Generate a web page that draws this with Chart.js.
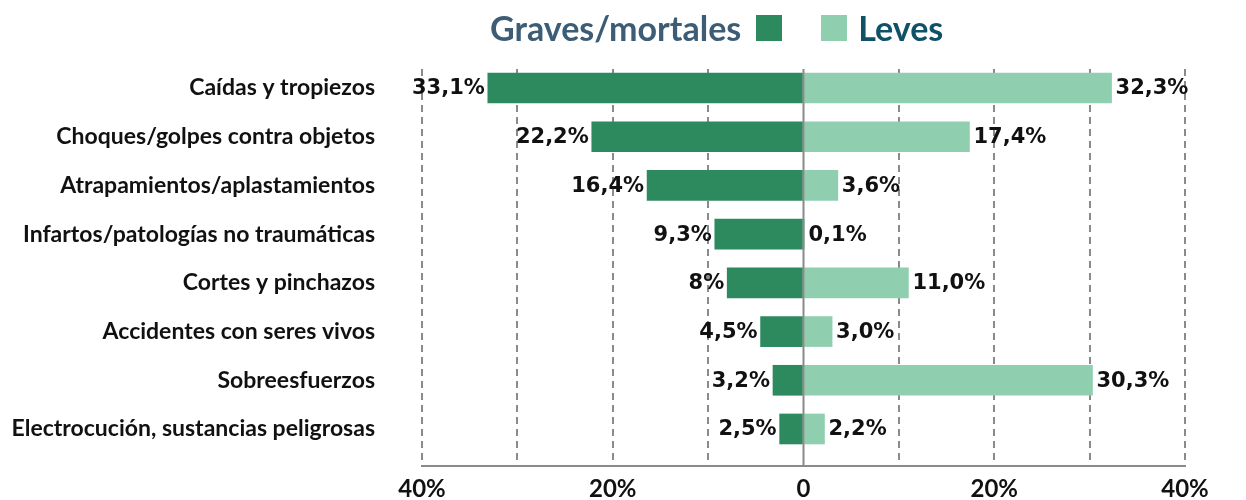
<!DOCTYPE html>
<html>
<head>
<meta charset="utf-8">
<script src="https://cdn.jsdelivr.net/npm/chart.js@4/dist/chart.umd.min.js"></script>
<style>
  body { margin: 0; background: #fff; }
  #wrap { position: relative; width: 1246px; height: 500px; }
  #legend { position: absolute; top: 7px; left: 490px; display: flex; align-items: center;
    font-family: Lato, sans-serif; font-weight: 700; font-size: 34px; white-space: nowrap; }
  .box { display: inline-block; width: 26px; height: 26px; }
</style>
</head>
<body>
<div id="wrap">
  <div id="legend">
    <span style="color:#3d5d76">Graves/mortales</span>
    <span class="box" style="background:#2d8a5f;margin-left:15px"></span>
    <span class="box" style="background:#8fcfb0;margin-left:39px"></span>
    <span style="color:#0f5166;margin-left:11px">Leves</span>
  </div>
  <canvas id="myChart" width="1246" height="500"></canvas>
</div>
<script>
// data
const categories = ['Caídas y tropiezos', 'Choques/golpes contra objetos', 'Atrapamientos/aplastamientos',
  'Infartos/patologías no traumáticas', 'Cortes y pinchazos', 'Accidentes con seres vivos',
  'Sobreesfuerzos', 'Electrocución, sustancias peligrosas']
const graves = [33.1, 22.2, 16.4, 9.3, 8, 4.5, 3.2, 2.5]
const leves = [32.3, 17.4, 3.6, 0.1, 11.0, 3.0, 30.3, 2.2]
const gravesLabels = ['33,1%', '22,2%', '16,4%', '9,3%', '8%', '4,5%', '3,2%', '2,5%']
const levesLabels = ['32,3%', '17,4%', '3,6%', '0,1%', '11,0%', '3,0%', '30,3%', '2,2%']
const xTickValues = [-40, -30, -20, -10, 0, 10, 20, 30, 40]
const xTickLabels = ['40%', '', '20%', '', '0', '', '20%', '', '40%']

const darkGreen = '#2d8a5f'
const lightGreen = '#8fcfb0'
const gridGray = '#8a8a8a'
const fontFam = 'Lato, sans-serif'

// solid line at 0, over the bars
const zeroLine = {
  id: 'zeroLine',
  afterDatasetsDraw(chart) {
    const c = chart.ctx
    const x = chart.scales.x.getPixelForValue(0)
    c.save()
    c.strokeStyle = gridGray
    c.lineWidth = 2
    c.beginPath()
    c.moveTo(x, chart.chartArea.top)
    c.lineTo(x, chart.chartArea.bottom)
    c.stroke()
    c.restore()
  }
}

// value labels at bar ends
const barLabels = {
  id: 'barLabels',
  afterDatasetsDraw(chart) {
    const c = chart.ctx
    c.save()
    c.font = 'bold 21px "DejaVu Sans"'
    c.fillStyle = '#111'
    c.textBaseline = 'middle'
    c.textAlign = 'right'
    chart.getDatasetMeta(0).data.forEach((bar, i) => {
      c.fillText(gravesLabels[i], bar.x - 3, bar.y + 1)
    })
    c.textAlign = 'left'
    chart.getDatasetMeta(1).data.forEach((bar, i) => {
      c.fillText(levesLabels[i], bar.x + 4, bar.y + 1)
    })
    c.restore()
  }
}

const noPad = s => { s.paddingTop = 0; s.paddingBottom = 0; s.paddingLeft = 0; s.paddingRight = 0 }

const ctx = document.getElementById('myChart')
new Chart(ctx, {
  type: 'bar',
  data: {
    datasets: [
      {
        label: 'Graves/mortales',
        data: graves.map((v, i) => ({ x: -v, y: i })),
        backgroundColor: darkGreen,
        barThickness: 30
      },
      {
        label: 'Leves',
        data: leves.map((v, i) => ({ x: v, y: i })),
        backgroundColor: lightGreen,
        barThickness: 30
      }
    ]
  },
  options: {
    indexAxis: 'y',
    responsive: false,
    animation: false,
    layout: { padding: { top: 69, right: 61, left: 0, bottom: 0 } },
    plugins: {
      legend: { display: false },
      tooltip: { enabled: false }
    },
    scales: {
      x: {
        min: -40,
        max: 40,
        stacked: true,
        afterBuildTicks: s => { s.ticks = xTickValues.map(v => ({ value: v })) },
        afterFit: s => { s.height = 34; noPad(s) },
        grid: {
          color: c => (c.tick && c.tick.value === 0) ? 'rgba(0,0,0,0)' : gridGray,
          lineWidth: 2,
          drawTicks: false
        },
        border: { color: gridGray, width: 2, dash: [7, 5] },
        ticks: {
          autoSkip: false,
          maxRotation: 0,
          padding: 9,
          color: '#111',
          font: { family: fontFam, weight: 'bold', size: 24 },
          callback: (v, i) => xTickLabels[i]
        }
      },
      y: {
        type: 'linear',
        reverse: true,
        offset: false,
        min: -0.39,
        max: 7.76,
        stacked: true,
        afterBuildTicks: s => { s.ticks = categories.map((c, i) => ({ value: i })) },
        afterFit: s => { s.width = 422; noPad(s) },
        grid: { display: false, drawTicks: false },
        border: { display: false },
        ticks: {
          autoSkip: false,
          padding: 47,
          color: '#111',
          font: { family: fontFam, weight: 'bold', size: 23 },
          callback: v => categories[v]
        }
      }
    }
  },
  plugins: [zeroLine, barLabels]
})
</script>
</body>
</html>
